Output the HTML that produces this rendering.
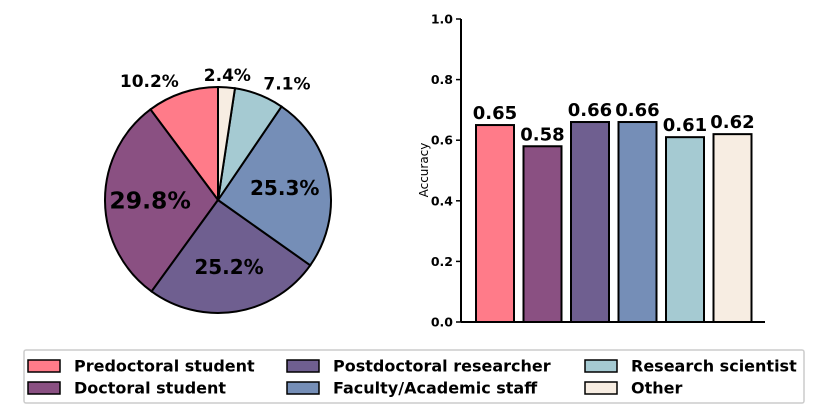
<!DOCTYPE html>
<html><head><meta charset="utf-8"><style>
body{margin:0;background:#fff;width:831px;height:416px;overflow:hidden;font-family:"DejaVu Sans","Liberation Sans",sans-serif}
</style></head><body>
<svg width="831" height="416" id="svg" font-family="DejaVu Sans, Liberation Sans, sans-serif">
<g id="pie"></g>
<g id="bar"></g>
<g id="legend"></g>
</svg>
<script>
const categories=["Predoctoral student","Doctoral student","Postdoctoral researcher","Faculty/Academic staff","Research scientist","Other"];
const shares=[10.2,29.8,25.2,25.3,7.1,2.4];
const accuracy=[0.65,0.58,0.66,0.66,0.61,0.62];
const yTicks=[0.0,0.2,0.4,0.6,0.8,1.0];
const colors=["#FF7B89","#8A5082","#6F5F90","#758EB7","#A5CAD2","#F7EDE2"];
const NS="http://www.w3.org/2000/svg";
function mk(tag,attrs,parent,text){const e=document.createElementNS(NS,tag);for(const k in attrs)e.setAttribute(k,attrs[k]);if(text!==undefined)e.textContent=text;parent.appendChild(e);return e;}
// Pie
const pie=document.getElementById('pie');
const cx=218,cy=200,R=113;
const total=shares.reduce((a,b)=>a+b,0);
let ang=90;
shares.forEach((s,i)=>{
  const a0=ang, a1=ang+s/total*360; ang=a1;
  const r0=a0*Math.PI/180,r1=a1*Math.PI/180;
  const x0=cx+R*Math.cos(r0),y0=cy-R*Math.sin(r0),x1=cx+R*Math.cos(r1),y1=cy-R*Math.sin(r1);
  const large=(a1-a0)>180?1:0;
  const p=mk('path',{d:`M${cx},${cy} L${x0},${y0} A${R},${R} 0 ${large} 0 ${x1},${y1} Z`,fill:colors[i],stroke:'#000','stroke-width':2},pie);
  
  
  const mid=(a0+a1)/2*Math.PI/180;
  const big=s>15;
  let t;
  if(big){
    const rr=R*0.6;
    t=mk('text',{x:cx+rr*Math.cos(mid),y:cy-rr*Math.sin(mid),'text-anchor':'middle','dominant-baseline':'central','font-weight':'bold','font-size':(s>29?23.5:20)},pie,s.toFixed(1)+'%');
  } else {
    const rr=R*1.1, c=Math.cos(mid);
    const anchor=c>0.1?'start':(c<-0.1?'end':'middle');
    t=mk('text',{x:cx+rr*c,y:cy-rr*Math.sin(mid),'text-anchor':anchor,'dominant-baseline':'central','font-weight':'bold','font-size':17},pie,s.toFixed(1)+'%');
  }
  
  
});
// Bar
const bar=document.getElementById('bar');
const x0=461,xEnd=765,y0=322,y1=19;
const ys=v=>y0-(y0-y1)*v;
const step=47.5,bw=38,firstX=476;
yTicks.forEach(v=>{
  mk('line',{x1:x0-5,x2:x0,y1:ys(v),y2:ys(v),stroke:'#000','stroke-width':1.5},bar);
  const t=mk('text',{x:x0-8,y:ys(v),'text-anchor':'end','dominant-baseline':'central','font-weight':'bold','font-size':12.5},bar,v.toFixed(1));
  
  
});
accuracy.forEach((v,i)=>{
  const x=firstX+i*step;
  const r=mk('rect',{x:x,y:ys(v),width:bw,height:y0-ys(v),fill:colors[i],stroke:'#000','stroke-width':2},bar);
  
  
  const t=mk('text',{x:x+bw/2,y:ys(v)-6,'text-anchor':'middle','font-weight':'bold','font-size':18},bar,v.toFixed(2));
  
  
});
mk('line',{x1:x0,x2:x0,y1:y1,y2:y0,stroke:'#000','stroke-width':2},bar);
mk('line',{x1:x0,x2:xEnd,y1:y0,y2:y0,stroke:'#000','stroke-width':2},bar);
const yt=mk('text',{x:428,y:170,'text-anchor':'middle','font-size':12,transform:'rotate(-90 428 170)'},bar,'Accuracy');


// Legend
const lg=document.getElementById('legend');
mk('rect',{x:24,y:350,width:780,height:53,fill:'#fff',stroke:'#ccc','stroke-width':1.5,rx:2},lg);
const colX=[28,287,585],rowY=[366,388];
categories.forEach((c,i)=>{
  const col=Math.floor(i/2),row=i%2;
  const sw=mk('rect',{x:colX[col],y:rowY[row]-6,width:32,height:12,fill:colors[i],stroke:'#000','stroke-width':1.5},lg);
  
  
  const t=mk('text',{x:colX[col]+46,y:rowY[row],'dominant-baseline':'central','font-weight':'bold','font-size':16},lg,c);
  
  
});
</script>
</body></html>
